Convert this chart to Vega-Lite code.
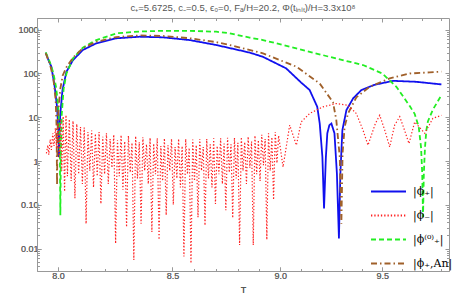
{
"$schema":"https://vega.github.io/schema/vega-lite/v6.json",
"width":412,"height":253,
"autosize":{"type":"none"},
"padding":{"left":37,"top":18,"right":3,"bottom":30},
"background":"white",
"title":{"text":"c₊=5.6725, c₋=0.5, ϵ₀=0, Fₐ/H=20.2, Φ(tᵢₙᵢₜ)/H=3.3x10⁸","fontSize":9.5,"font":"Liberation Sans","fontWeight":"normal","color":"#555","anchor":"middle","offset":5},
"data":{"values":[
{"s":"|ϕ₊|","T":7.948,"v":298},{"s":"|ϕ₊|","T":7.96,"v":200},{"s":"|ϕ₊|","T":7.972,"v":143},{"s":"|ϕ₊|","T":7.986,"v":50},{"s":"|ϕ₊|","T":7.996,"v":17},{"s":"|ϕ₊|","T":8.0017,"v":5.1},{"s":"|ϕ₊|","T":8.004,"v":1.24},{"s":"|ϕ₊|","T":8.007,"v":6},{"s":"|ϕ₊|","T":8.01,"v":12.2},{"s":"|ϕ₊|","T":8.019,"v":41.8},{"s":"|ϕ₊|","T":8.036,"v":110},{"s":"|ϕ₊|","T":8.064,"v":203},{"s":"|ϕ₊|","T":8.106,"v":344},{"s":"|ϕ₊|","T":8.164,"v":489},{"s":"|ϕ₊|","T":8.251,"v":636},{"s":"|ϕ₊|","T":8.353,"v":692},{"s":"|ϕ₊|","T":8.457,"v":670},{"s":"|ϕ₊|","T":8.577,"v":581},{"s":"|ϕ₊|","T":8.7,"v":447},{"s":"|ϕ₊|","T":8.855,"v":300},{"s":"|ϕ₊|","T":8.917,"v":241},{"s":"|ϕ₊|","T":9.028,"v":131},{"s":"|ϕ₊|","T":9.1,"v":62},{"s":"|ϕ₊|","T":9.141,"v":42},{"s":"|ϕ₊|","T":9.178,"v":17.3},{"s":"|ϕ₊|","T":9.19,"v":7.2},{"s":"|ϕ₊|","T":9.203,"v":1.24},{"s":"|ϕ₊|","T":9.211,"v":0.082},{"s":"|ϕ₊|","T":9.22,"v":1.24},{"s":"|ϕ₊|","T":9.227,"v":4.3},{"s":"|ϕ₊|","T":9.237,"v":6.6},{"s":"|ϕ₊|","T":9.247,"v":7.2},{"s":"|ϕ₊|","T":9.262,"v":4.3},{"s":"|ϕ₊|","T":9.274,"v":0.52},{"s":"|ϕ₊|","T":9.284,"v":0.017},{"s":"|ϕ₊|","T":9.291,"v":0.52},{"s":"|ϕ₊|","T":9.301,"v":5.1},{"s":"|ϕ₊|","T":9.321,"v":14.6},{"s":"|ϕ₊|","T":9.354,"v":27},{"s":"|ϕ₊|","T":9.395,"v":41.8},{"s":"|ϕ₊|","T":9.46,"v":55},{"s":"|ϕ₊|","T":9.554,"v":68},{"s":"|ϕ₊|","T":9.673,"v":64.5},{"s":"|ϕ₊|","T":9.802,"v":56.3},
{"s":"|ϕ₋|","T":7.951,"v":1.5},{"s":"|ϕ₋|","T":7.957,"v":2.3},{"s":"|ϕ₋|","T":7.961,"v":1.4},{"s":"|ϕ₋|","T":7.967,"v":3.1},{"s":"|ϕ₋|","T":7.972,"v":1.8},{"s":"|ϕ₋|","T":7.978,"v":4.3},{"s":"|ϕ₋|","T":7.983,"v":2.2},{"s":"|ϕ₋|","T":7.989,"v":5.6},{"s":"|ϕ₋|","T":7.994,"v":2.0},{"s":"|ϕ₋|","T":8.0,"v":7.2},{"s":"|ϕ₋|","T":8.005,"v":1.2},{"s":"|ϕ₋|","T":8.011,"v":9.0},{"s":"|ϕ₋|","T":8.016,"v":0.6},{"s":"|ϕ₋|","T":8.022,"v":10.5},{"s":"|ϕ₋|","T":8.028,"v":0.2},{"s":"|ϕ₋|","T":8.034,"v":11.2},{"s":"|ϕ₋|","T":8.04,"v":0.45},{"s":"|ϕ₋|","T":8.048,"v":9.0},
{"s":"|ϕ₋|","T":8.056,"v":0.35},{"s":"|ϕ₋|","T":8.064,"v":8.2},{"s":"|ϕ₋|","T":8.072,"v":0.14},{"s":"|ϕ₋|","T":8.08,"v":7.0},{"s":"|ϕ₋|","T":8.088,"v":0.5},{"s":"|ϕ₋|","T":8.096,"v":6.0},{"s":"|ϕ₋|","T":8.104,"v":0.3},{"s":"|ϕ₋|","T":8.112,"v":5.8},{"s":"|ϕ₋|","T":8.12,"v":0.037},{"s":"|ϕ₋|","T":8.128,"v":4.6},{"s":"|ϕ₋|","T":8.136,"v":0.6},{"s":"|ϕ₋|","T":8.144,"v":5.0},{"s":"|ϕ₋|","T":8.152,"v":0.25},{"s":"|ϕ₋|","T":8.16,"v":4.2},{"s":"|ϕ₋|","T":8.168,"v":0.45},{"s":"|ϕ₋|","T":8.176,"v":4.6},{"s":"|ϕ₋|","T":8.184,"v":0.105},{"s":"|ϕ₋|","T":8.192,"v":3.6},{"s":"|ϕ₋|","T":8.2,"v":0.5},{"s":"|ϕ₋|","T":8.208,"v":4.3},{"s":"|ϕ₋|","T":8.216,"v":0.3},{"s":"|ϕ₋|","T":8.224,"v":3.2},{"s":"|ϕ₋|","T":8.232,"v":0.7},{"s":"|ϕ₋|","T":8.24,"v":4.0},{"s":"|ϕ₋|","T":8.248,"v":0.013},{"s":"|ϕ₋|","T":8.256,"v":3.0},{"s":"|ϕ₋|","T":8.264,"v":0.45},{"s":"|ϕ₋|","T":8.272,"v":3.9},{"s":"|ϕ₋|","T":8.28,"v":0.22},{"s":"|ϕ₋|","T":8.288,"v":2.8},{"s":"|ϕ₋|","T":8.296,"v":0.031},{"s":"|ϕ₋|","T":8.304,"v":3.8},{"s":"|ϕ₋|","T":8.312,"v":0.55},{"s":"|ϕ₋|","T":8.32,"v":2.6},{"s":"|ϕ₋|","T":8.328,"v":0.0055},{"s":"|ϕ₋|","T":8.336,"v":3.7},{"s":"|ϕ₋|","T":8.344,"v":0.4},{"s":"|ϕ₋|","T":8.352,"v":2.7},{"s":"|ϕ₋|","T":8.36,"v":0.037},{"s":"|ϕ₋|","T":8.368,"v":3.5},{"s":"|ϕ₋|","T":8.376,"v":0.6},{"s":"|ϕ₋|","T":8.384,"v":2.4},{"s":"|ϕ₋|","T":8.392,"v":0.3},{"s":"|ϕ₋|","T":8.4,"v":3.4},{"s":"|ϕ₋|","T":8.408,"v":0.024},{"s":"|ϕ₋|","T":8.416,"v":2.5},{"s":"|ϕ₋|","T":8.424,"v":0.5},{"s":"|ϕ₋|","T":8.432,"v":3.3},{"s":"|ϕ₋|","T":8.44,"v":0.016},{"s":"|ϕ₋|","T":8.448,"v":2.2},{"s":"|ϕ₋|","T":8.456,"v":0.35},{"s":"|ϕ₋|","T":8.464,"v":3.3},{"s":"|ϕ₋|","T":8.472,"v":0.058},{"s":"|ϕ₋|","T":8.48,"v":2.3},{"s":"|ϕ₋|","T":8.488,"v":0.6},{"s":"|ϕ₋|","T":8.496,"v":3.2},{"s":"|ϕ₋|","T":8.504,"v":0.1},{"s":"|ϕ₋|","T":8.512,"v":2.1},{"s":"|ϕ₋|","T":8.52,"v":0.4},{"s":"|ϕ₋|","T":8.528,"v":3.2},{"s":"|ϕ₋|","T":8.536,"v":0.25},{"s":"|ϕ₋|","T":8.544,"v":2.2},{"s":"|ϕ₋|","T":8.552,"v":0.0066},{"s":"|ϕ₋|","T":8.56,"v":3.2},{"s":"|ϕ₋|","T":8.568,"v":0.5},{"s":"|ϕ₋|","T":8.576,"v":2.0},{"s":"|ϕ₋|","T":8.584,"v":0.0046},{"s":"|ϕ₋|","T":8.592,"v":3.1},{"s":"|ϕ₋|","T":8.6,"v":0.35},{"s":"|ϕ₋|","T":8.608,"v":2.3},{"s":"|ϕ₋|","T":8.616,"v":0.052},{"s":"|ϕ₋|","T":8.624,"v":3.2},{"s":"|ϕ₋|","T":8.632,"v":0.6},{"s":"|ϕ₋|","T":8.64,"v":2.1},{"s":"|ϕ₋|","T":8.648,"v":0.034},{"s":"|ϕ₋|","T":8.656,"v":3.2},{"s":"|ϕ₋|","T":8.664,"v":0.4},{"s":"|ϕ₋|","T":8.672,"v":2.4},{"s":"|ϕ₋|","T":8.68,"v":0.25},{"s":"|ϕ₋|","T":8.688,"v":3.3},{"s":"|ϕ₋|","T":8.696,"v":0.105},{"s":"|ϕ₋|","T":8.704,"v":2.2},{"s":"|ϕ₋|","T":8.712,"v":0.5},{"s":"|ϕ₋|","T":8.72,"v":3.3},{"s":"|ϕ₋|","T":8.728,"v":0.3},{"s":"|ϕ₋|","T":8.736,"v":2.5},{"s":"|ϕ₋|","T":8.744,"v":0.075},{"s":"|ϕ₋|","T":8.752,"v":3.4},{"s":"|ϕ₋|","T":8.76,"v":0.55},{"s":"|ϕ₋|","T":8.768,"v":2.4},{"s":"|ϕ₋|","T":8.776,"v":0.05},{"s":"|ϕ₋|","T":8.784,"v":3.4},{"s":"|ϕ₋|","T":8.792,"v":0.4},{"s":"|ϕ₋|","T":8.8,"v":2.6},{"s":"|ϕ₋|","T":8.808,"v":0.012},{"s":"|ϕ₋|","T":8.816,"v":3.5},{"s":"|ϕ₋|","T":8.824,"v":0.6},{"s":"|ϕ₋|","T":8.832,"v":2.7},{"s":"|ϕ₋|","T":8.84,"v":0.3},{"s":"|ϕ₋|","T":8.848,"v":3.6},{"s":"|ϕ₋|","T":8.856,"v":0.7},{"s":"|ϕ₋|","T":8.864,"v":2.8},{"s":"|ϕ₋|","T":8.872,"v":0.012},{"s":"|ϕ₋|","T":8.88,"v":3.8},{"s":"|ϕ₋|","T":8.888,"v":0.5},{"s":"|ϕ₋|","T":8.896,"v":3.0},{"s":"|ϕ₋|","T":8.904,"v":0.35},{"s":"|ϕ₋|","T":8.912,"v":4.0},{"s":"|ϕ₋|","T":8.92,"v":0.8},{"s":"|ϕ₋|","T":8.928,"v":3.2},{"s":"|ϕ₋|","T":8.936,"v":0.016},{"s":"|ϕ₋|","T":8.944,"v":4.3},{"s":"|ϕ₋|","T":8.952,"v":0.6},{"s":"|ϕ₋|","T":8.96,"v":3.5},{"s":"|ϕ₋|","T":8.968,"v":0.13},{"s":"|ϕ₋|","T":8.976,"v":4.6},{"s":"|ϕ₋|","T":8.984,"v":0.9},{"s":"|ϕ₋|","T":8.992,"v":3.8},
{"s":"|ϕ₋|","T":9.013,"v":0.73},{"s":"|ϕ₋|","T":9.045,"v":6.6},{"s":"|ϕ₋|","T":9.077,"v":2.3},{"s":"|ϕ₋|","T":9.1,"v":7.8},{"s":"|ϕ₋|","T":9.141,"v":12.2},{"s":"|ϕ₋|","T":9.206,"v":17.3},{"s":"|ϕ₋|","T":9.271,"v":20.6},{"s":"|ϕ₋|","T":9.329,"v":18.8},{"s":"|ϕ₋|","T":9.37,"v":12.2},{"s":"|ϕ₋|","T":9.403,"v":5.1},{"s":"|ϕ₋|","T":9.428,"v":2.3},{"s":"|ϕ₋|","T":9.465,"v":7.2},{"s":"|ϕ₋|","T":9.487,"v":11.1},{"s":"|ϕ₋|","T":9.512,"v":5.1},{"s":"|ϕ₋|","T":9.537,"v":2.1},{"s":"|ϕ₋|","T":9.562,"v":6.6},{"s":"|ϕ₋|","T":9.588,"v":10.3},{"s":"|ϕ₋|","T":9.612,"v":5.1},{"s":"|ϕ₋|","T":9.635,"v":2.5},{"s":"|ϕ₋|","T":9.664,"v":7.8},{"s":"|ϕ₋|","T":9.716,"v":4.3},{"s":"|ϕ₋|","T":9.758,"v":9.5},{"s":"|ϕ₋|","T":9.802,"v":11},
{"s":"|ϕ⁽⁰⁾₊|","T":7.948,"v":305},{"s":"|ϕ⁽⁰⁾₊|","T":7.965,"v":185},{"s":"|ϕ⁽⁰⁾₊|","T":7.98,"v":105},{"s":"|ϕ⁽⁰⁾₊|","T":7.992,"v":48},{"s":"|ϕ⁽⁰⁾₊|","T":8.0,"v":20},{"s":"|ϕ⁽⁰⁾₊|","T":8.005,"v":7},{"s":"|ϕ⁽⁰⁾₊|","T":8.008,"v":1.5},{"s":"|ϕ⁽⁰⁾₊|","T":8.01,"v":0.058},{"s":"|ϕ⁽⁰⁾₊|","T":8.012,"v":1.5},{"s":"|ϕ⁽⁰⁾₊|","T":8.016,"v":12},{"s":"|ϕ⁽⁰⁾₊|","T":8.024,"v":45},{"s":"|ϕ⁽⁰⁾₊|","T":8.036,"v":100},{"s":"|ϕ⁽⁰⁾₊|","T":8.064,"v":222},{"s":"|ϕ⁽⁰⁾₊|","T":8.106,"v":390},{"s":"|ϕ⁽⁰⁾₊|","T":8.164,"v":581},{"s":"|ϕ⁽⁰⁾₊|","T":8.254,"v":828},{"s":"|ϕ⁽⁰⁾₊|","T":8.354,"v":910},{"s":"|ϕ⁽⁰⁾₊|","T":8.457,"v":945},{"s":"|ϕ⁽⁰⁾₊|","T":8.577,"v":945},{"s":"|ϕ⁽⁰⁾₊|","T":8.7,"v":900},{"s":"|ϕ⁽⁰⁾₊|","T":8.762,"v":828},{"s":"|ϕ⁽⁰⁾₊|","T":8.855,"v":660},{"s":"|ϕ⁽⁰⁾₊|","T":8.918,"v":581},{"s":"|ϕ⁽⁰⁾₊|","T":9.077,"v":376},{"s":"|ϕ⁽⁰⁾₊|","T":9.236,"v":241},{"s":"|ϕ⁽⁰⁾₊|","T":9.403,"v":156},{"s":"|ϕ⁽⁰⁾₊|","T":9.5,"v":100},{"s":"|ϕ⁽⁰⁾₊|","T":9.571,"v":49.7},{"s":"|ϕ⁽⁰⁾₊|","T":9.639,"v":18},{"s":"|ϕ⁽⁰⁾₊|","T":9.664,"v":12},{"s":"|ϕ⁽⁰⁾₊|","T":9.685,"v":6},{"s":"|ϕ⁽⁰⁾₊|","T":9.697,"v":2},{"s":"|ϕ⁽⁰⁾₊|","T":9.703,"v":0.5},{"s":"|ϕ⁽⁰⁾₊|","T":9.707,"v":0.053},{"s":"|ϕ⁽⁰⁾₊|","T":9.711,"v":0.5},{"s":"|ϕ⁽⁰⁾₊|","T":9.717,"v":2},{"s":"|ϕ⁽⁰⁾₊|","T":9.724,"v":5},{"s":"|ϕ⁽⁰⁾₊|","T":9.732,"v":8},{"s":"|ϕ⁽⁰⁾₊|","T":9.758,"v":15},{"s":"|ϕ⁽⁰⁾₊|","T":9.802,"v":32},
{"s":"|ϕ₊,An|","T":7.948,"v":290},{"s":"|ϕ₊,An|","T":7.965,"v":170},{"s":"|ϕ₊,An|","T":7.98,"v":80},{"s":"|ϕ₊,An|","T":7.99,"v":25},{"s":"|ϕ₊,An|","T":7.994,"v":6},{"s":"|ϕ₊,An|","T":7.996,"v":0.28},{"s":"|ϕ₊,An|","T":7.998,"v":5},{"s":"|ϕ₊,An|","T":8.002,"v":15},{"s":"|ϕ₊,An|","T":8.01,"v":45},{"s":"|ϕ₊,An|","T":8.02,"v":90},{"s":"|ϕ₊,An|","T":8.036,"v":140},{"s":"|ϕ₊,An|","T":8.064,"v":230},{"s":"|ϕ₊,An|","T":8.106,"v":380},{"s":"|ϕ₊,An|","T":8.164,"v":530},{"s":"|ϕ₊,An|","T":8.251,"v":680},{"s":"|ϕ₊,An|","T":8.353,"v":740},{"s":"|ϕ₊,An|","T":8.457,"v":720},{"s":"|ϕ₊,An|","T":8.577,"v":640},{"s":"|ϕ₊,An|","T":8.7,"v":520},{"s":"|ϕ₊,An|","T":8.762,"v":447},{"s":"|ϕ₊,An|","T":8.918,"v":288},{"s":"|ϕ₊,An|","T":9.077,"v":143},{"s":"|ϕ₊,An|","T":9.19,"v":59},{"s":"|ϕ₊,An|","T":9.255,"v":22},{"s":"|ϕ₊,An|","T":9.271,"v":8.7},{"s":"|ϕ₊,An|","T":9.288,"v":1.24},{"s":"|ϕ₊,An|","T":9.296,"v":0.037},{"s":"|ϕ₊,An|","T":9.302,"v":1.5},{"s":"|ϕ₊,An|","T":9.312,"v":6},{"s":"|ϕ₊,An|","T":9.329,"v":12.2},{"s":"|ϕ₊,An|","T":9.37,"v":28.5},{"s":"|ϕ₊,An|","T":9.436,"v":49.7},{"s":"|ϕ₊,An|","T":9.537,"v":77.5},{"s":"|ϕ₊,An|","T":9.639,"v":100},{"s":"|ϕ₊,An|","T":9.741,"v":106},{"s":"|ϕ₊,An|","T":9.802,"v":110}
]},
"encoding":{
"x":{"field":"T","type":"quantitative","scale":{"type":"log","domain":[7.9115,9.8415],"nice":false,"zero":false},
"axis":{"orient":"bottom","title":"T","values":[8,8.1,8.2,8.3,8.4,8.5,8.6,8.7,8.8,8.9,9,9.1,9.2,9.3,9.4,9.5,9.6,9.7,9.8],
"labelExpr":"abs(datum.value*2-round(datum.value*2))<0.001 ? format(datum.value,'.1f') : ''",
"tickSize":{"condition":{"test":"abs(datum.value*2-round(datum.value*2))<0.001","value":-4},"value":-2.5},
"labelPadding":4,"titlePadding":4}},
"y":{"field":"v","type":"quantitative","scale":{"type":"log","domain":[0.003073,1852],"nice":false},
"axis":{"orient":"left","title":null,"values":[0.004,0.005,0.006,0.007,0.008,0.009,0.01,0.02,0.03,0.04,0.05,0.06,0.07,0.08,0.09,0.1,0.2,0.3,0.4,0.5,0.6,0.7,0.8,0.9,1,2,3,4,5,6,7,8,9,10,20,30,40,50,60,70,80,90,100,200,300,400,500,600,700,800,900,1000],
"labelExpr":"datum.value==0.1 ? '0.10' : (abs(log(datum.value)/LN10-round(log(datum.value)/LN10))<0.01 ? format(datum.value,'~g') : '')",
"tickSize":{"condition":{"test":"abs(log(datum.value)/LN10-round(log(datum.value)/LN10))<0.01","value":-4},"value":-2.5},
"labelPadding":3}}
},
"layer":[
{"transform":[{"filter":"datum.s != '|ϕ₋|'"}],
 "mark":{"type":"line","clip":true,"strokeWidth":1.8},
 "encoding":{
  "color":{"field":"s","type":"nominal","scale":{"domain":["|ϕ₊|","|ϕ₋|","|ϕ⁽⁰⁾₊|","|ϕ₊,An|"],"range":["#1010ee","#ff2020","#22ee22","#a0602a"]},"legend":{"title":null}},
  "strokeDash":{"field":"s","type":"nominal","scale":{"domain":["|ϕ₊|","|ϕ₋|","|ϕ⁽⁰⁾₊|","|ϕ₊,An|"],"range":[[1,0],[1.3,2],[5,3],[6,3,1.5,3]]},"legend":{"title":null}}
 }},
{"transform":[{"filter":"datum.s == '|ϕ₋|'"}],
 "mark":{"type":"line","clip":true,"strokeWidth":1.2},
 "encoding":{
  "color":{"field":"s","type":"nominal","legend":{"title":null}},
  "strokeDash":{"field":"s","type":"nominal","legend":{"title":null}}
 }},
{"mark":{"type":"point","opacity":0},
 "encoding":{
  "x":{"field":"T","type":"quantitative","axis":{"orient":"top","title":null,"labels":false,"values":[8,8.1,8.2,8.3,8.4,8.5,8.6,8.7,8.8,8.9,9,9.1,9.2,9.3,9.4,9.5,9.6,9.7,9.8],
   "tickSize":{"condition":{"test":"abs(datum.value*2-round(datum.value*2))<0.001","value":-4},"value":-2.5}}},
  "y":{"field":"v","type":"quantitative","axis":{"orient":"right","title":null,"labels":false,"values":[0.004,0.005,0.006,0.007,0.008,0.009,0.01,0.02,0.03,0.04,0.05,0.06,0.07,0.08,0.09,0.1,0.2,0.3,0.4,0.5,0.6,0.7,0.8,0.9,1,2,3,4,5,6,7,8,9,10,20,30,40,50,60,70,80,90,100,200,300,400,500,600,700,800,900,1000],
   "tickSize":{"condition":{"test":"abs(log(datum.value)/LN10-round(log(datum.value)/LN10))<0.01","value":-4},"value":-2.5}}}
 }}
],
"resolve":{"axis":{"x":"independent","y":"independent"}},
"config":{
 "view":{"stroke":null},
 "axis":{"grid":false,"domainColor":"#999","tickColor":"#999","labelColor":"#666","labelFont":"Liberation Sans","labelFontSize":9,"titleFont":"Liberation Sans","titleFontSize":9,"titleColor":"#555","titleFontWeight":"normal","labelFlush":false,"labelOverlap":false},
 "legend":{"orient":"none","legendX":333,"legendY":155,"symbolType":"stroke","symbolSize":1225,"symbolStrokeWidth":1.8,"labelFont":"DejaVu Serif","labelFontSize":11,"labelColor":"#000","labelOffset":6,"rowPadding":-16,"padding":0}
}
}
